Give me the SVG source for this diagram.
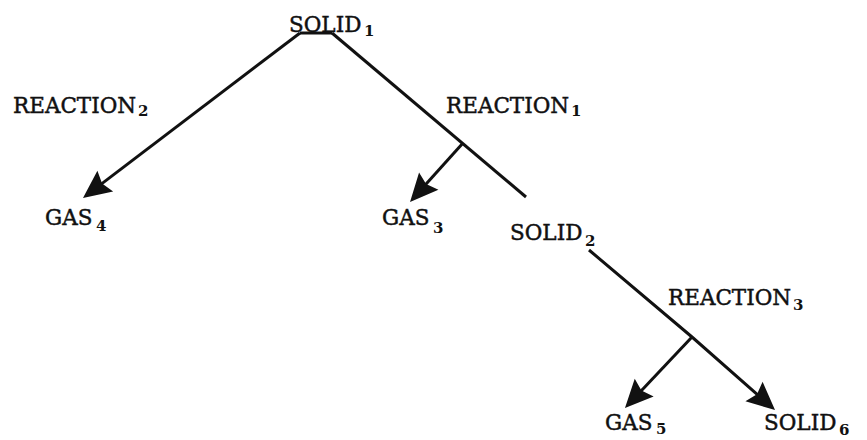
<svg xmlns="http://www.w3.org/2000/svg" width="867" height="440" viewBox="0 0 867 440">
  <style>
    .lbl { font-family: "DejaVu Serif", "Liberation Serif", serif; font-size: 21.5px; fill: #111; stroke: #111; stroke-width: 0.45; }
    .sub { font-family: "DejaVu Serif", "Liberation Serif", serif; font-size: 15px; font-weight: bold; fill: #111; }
    .edge { fill: none; stroke: #111; stroke-width: 3; stroke-linecap: butt; stroke-linejoin: round; }
  </style>
  <defs>
    <marker id="ah" markerUnits="userSpaceOnUse" viewBox="-10 -15 32 30" markerWidth="32" markerHeight="30" refX="0" refY="0" orient="auto">
      <path d="M20,0 L-8,-13 L-4,0 L-8,13 Z" fill="#111"/>
    </marker>
  </defs>
  <rect width="867" height="440" fill="#fff"/>

  <g id="connectors">
    <path class="edge" d="M300,33 L332,33" stroke-width="4"/>
    <path class="edge" d="M300,33 L98.9,185.9" marker-end="url(#ah)"/>
    <path class="edge" d="M332,33 L526,197"/>
    <path class="edge" d="M463,143 L423.4,187.1" marker-end="url(#ah)"/>
    <path class="edge" d="M589,250 L692,337 L760,396.8" marker-end="url(#ah)"/>
    <path class="edge" d="M692,337 L638.7,393.5" marker-end="url(#ah)"/>
  </g>

  <g id="solid1"><text class="lbl" x="289" y="32">SOLID</text><text class="sub" x="364" y="36">1</text></g>
  <g id="reaction2"><text class="lbl" x="13" y="113">REACTION</text><text class="sub" x="138" y="116">2</text></g>
  <g id="reaction1"><text class="lbl" x="446" y="113">REACTION</text><text class="sub" x="571" y="116">1</text></g>
  <g id="gas4"><text class="lbl" x="45" y="225">GAS</text><text class="sub" x="96" y="231">4</text></g>
  <g id="gas3"><text class="lbl" x="382" y="225">GAS</text><text class="sub" x="433" y="233">3</text></g>
  <g id="solid2"><text class="lbl" x="510" y="240">SOLID</text><text class="sub" x="585" y="246">2</text></g>
  <g id="reaction3"><text class="lbl" x="668" y="305">REACTION</text><text class="sub" x="793" y="310">3</text></g>
  <g id="gas5"><text class="lbl" x="605" y="430">GAS</text><text class="sub" x="656" y="434">5</text></g>
  <g id="solid6"><text class="lbl" x="764" y="430">SOLID</text><text class="sub" x="839" y="435">6</text></g>
</svg>
